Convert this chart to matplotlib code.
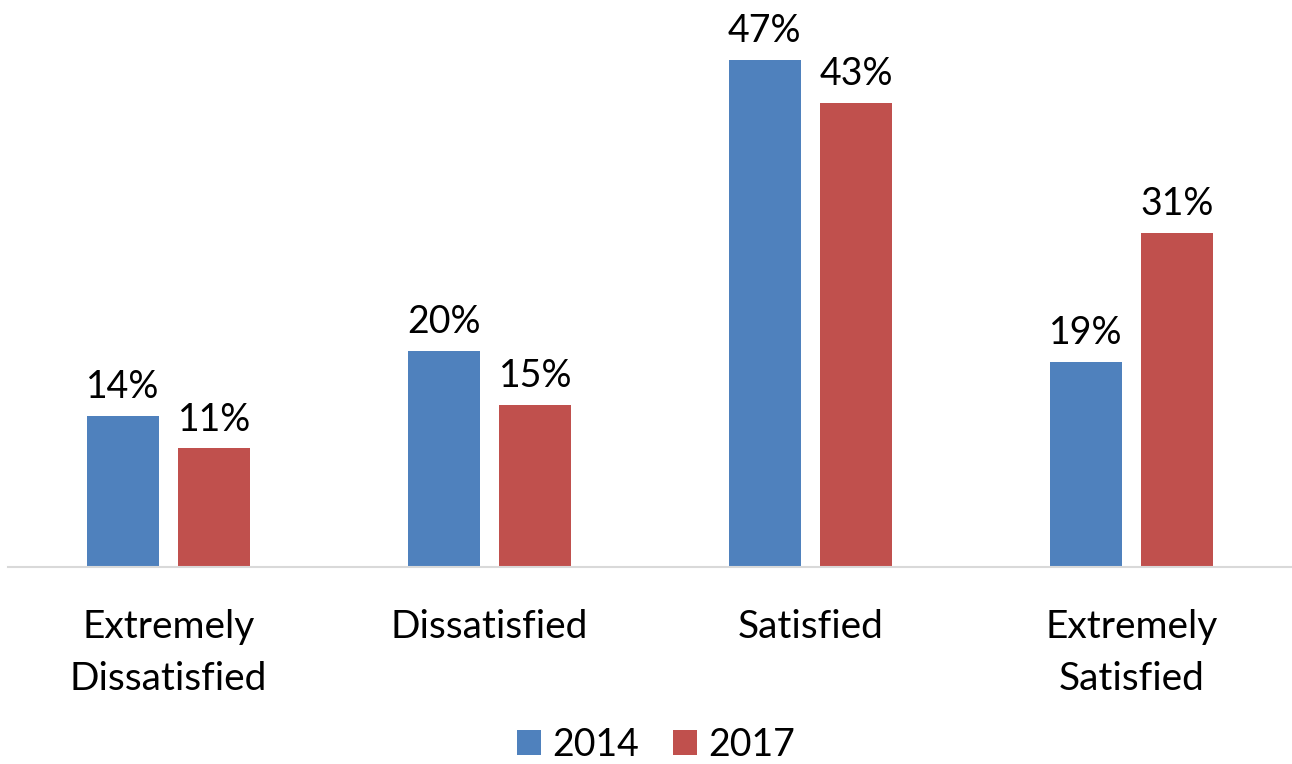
import matplotlib
matplotlib.use("Agg")
import matplotlib.pyplot as plt
import numpy as np

categories = ["Extremely\nDissatisfied", "Dissatisfied", "Satisfied", "Extremely\nSatisfied"]
series_names = ["2014", "2017"]
values_2014 = [14, 20, 47, 19]
values_2017 = [11, 15, 43, 31]

colors = ["#4F81BD", "#C0504D"]
plt.rcParams["font.family"] = ["Lato", "DejaVu Sans"]

fig = plt.figure(figsize=(12.92, 7.64), dpi=100)
ax = fig.add_axes([8 / 1292, 1 - 567 / 764, 1284 / 1292, 567 / 764])

x = np.arange(len(categories))
width = 0.224
offset = 0.143
for vals, name, col, sign in [(values_2014, series_names[0], colors[0], -1),
                              (values_2017, series_names[1], colors[1], 1)]:
    bars = ax.bar(x + sign * offset, vals, width, color=col, label=name)
    for b, v in zip(bars, vals):
        ax.text(b.get_x() + b.get_width() / 2, v + 1.0, f"{v}%",
                ha="center", va="bottom", fontsize=27, color="black")

ax.set_xlim(-0.5, 3.5)
ax.set_ylim(0, 567 / 10.79)
ax.set_yticks([])
ax.set_xticks(x)
ax.set_xticklabels(categories, fontsize=28, linespacing=1.55)
ax.tick_params(axis="x", length=0, pad=30)
for s in ["top", "right", "left"]:
    ax.spines[s].set_visible(False)
ax.spines["bottom"].set_color("#D9D9D9")
ax.spines["bottom"].set_linewidth(1.5)

leg = fig.legend(loc="center", bbox_to_anchor=(656 / 1292, 1 - 745 / 764), ncol=2,
                 frameon=False, fontsize=27, handlelength=0.65, handleheight=0.65,
                 handletextpad=0.3, columnspacing=0.88, borderpad=0.1)

fig.savefig("out.png", dpi=100)
